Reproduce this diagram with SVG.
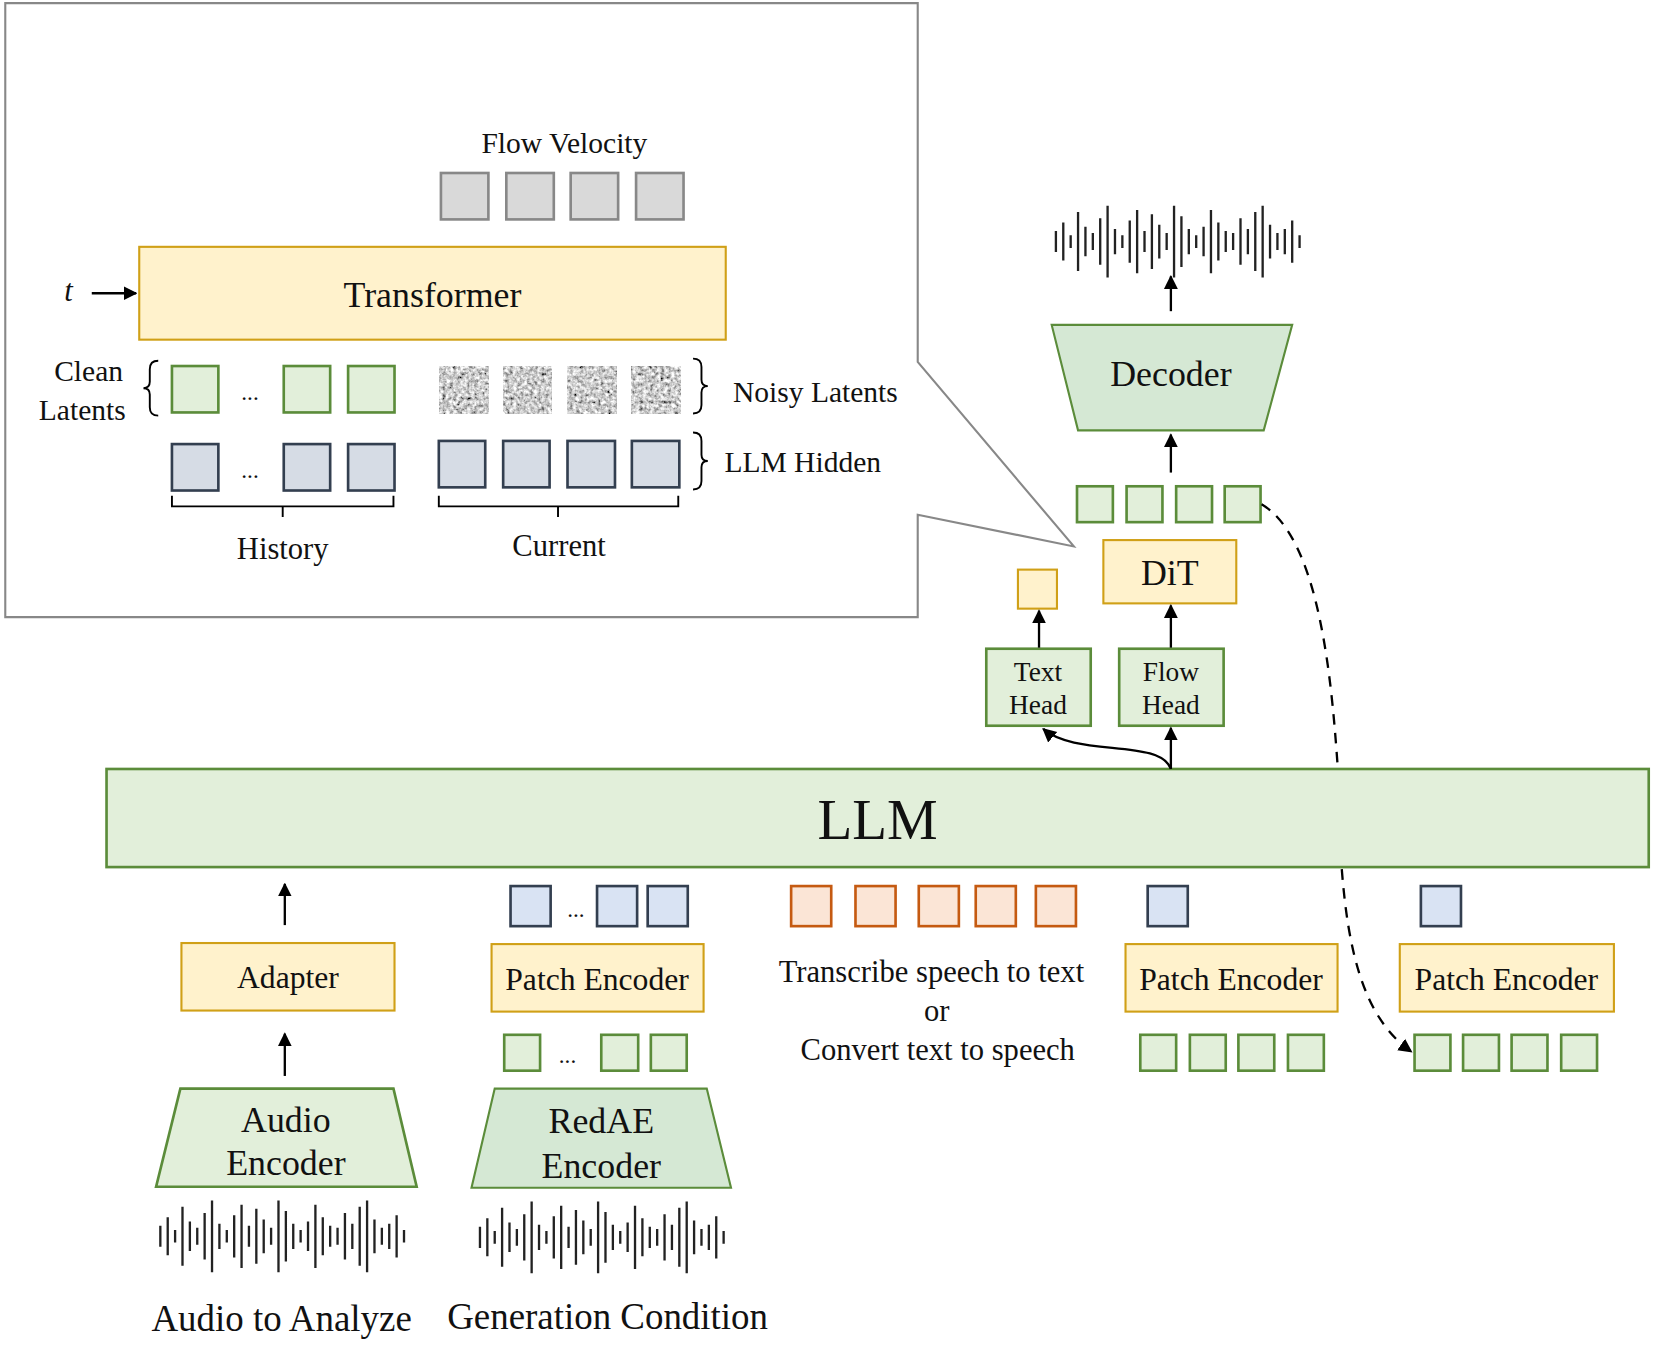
<svg xmlns="http://www.w3.org/2000/svg" width="1654" height="1361" viewBox="0 0 1654 1361">
<style>
text{font-family:"Liberation Serif","Times New Roman",serif;fill:#111;text-anchor:middle;dominant-baseline:central}
.g{fill:#e2efda;stroke:#5b8c3a;stroke-width:2.5}
.g2{fill:#d5e8d4;stroke:#5b8c3a;stroke-width:2}
.y{fill:#fff2cc;stroke:#d0a017;stroke-width:2}
.b{fill:#d6dce5;stroke:#333f50;stroke-width:2.5}
.bl{fill:#d9e3f3;stroke:#333f50;stroke-width:2.5}
.o{fill:#fbe5d6;stroke:#c55a11;stroke-width:2.5}
.gr{fill:#d9d9d9;stroke:#888;stroke-width:2.5}
.n{fill:#999;stroke:#888;stroke-width:2;filter:url(#noise)}
.ln{fill:none;stroke:#000;stroke-width:2.2}
.br{fill:none;stroke:#000;stroke-width:1.8}
</style>
<defs>
<marker id="ah" viewBox="0 0 10 10" refX="9" refY="5" markerWidth="6" markerHeight="7" orient="auto"><path d="M0,0 L10,5 L0,10 z" fill="#000"/></marker>
<filter id="noise" x="0" y="0" width="1" height="1"><feTurbulence type="fractalNoise" baseFrequency="0.3" numOctaves="3" seed="3"/><feColorMatrix type="matrix" values="0.9 0.9 0.9 0 -0.75 0.9 0.9 0.9 0 -0.75 0.9 0.9 0.9 0 -0.75 0 0 0 0 1"/><feComposite in2="SourceGraphic" operator="in"/></filter>
<symbol id="wave" overflow="visible"><path stroke="#222" stroke-width="2.2" d="M0,-10V10M7,-18V18M14,-6V6M21,-28V28M28,-14V14M35,-8V8M42,-22V22M49,-34V34M56,-12V12M63,-6V6M70,-20V20M77,-30V30M84,-10V10M91,-26V26M98,-16V16M105,-8V8M112,-34V34M119,-24V24M126,-12V12M133,-6V6M140,-14V14M147,-30V30M154,-18V18M161,-10V10M168,-8V8M175,-22V22M182,-12V12M189,-28V28M196,-34V34M203,-16V16M210,-8V8M217,-12V12M224,-20V20M231,-6V6"/></symbol>
</defs>
<g transform="scale(1.05485)">
<g id="callout"><path d="M5,3 H870 V343 L1018,518 L870,488 V585 H5 Z" fill="#fff" stroke="#888" stroke-width="2"/></g>
<g id="flowvel"><text x="535" y="136" font-size="28">Flow Velocity</text>
<rect class="gr" x="418" y="164" width="45" height="44"/><rect class="gr" x="480" y="164" width="45" height="44"/><rect class="gr" x="541" y="164" width="45" height="44"/><rect class="gr" x="603" y="164" width="45" height="44"/></g>
<g id="transformer"><rect class="y" x="132" y="234" width="556" height="88"/><text x="410" y="280" font-size="34">Transformer</text></g>
<g id="t"><text x="65" y="276" font-size="29" font-style="italic">t</text></g>
<g id="clean"><text x="84" y="352" font-size="28">Clean</text><text x="78" y="389" font-size="28">Latents</text>
<path class="br" d="M150,342 Q142,342 142,350 V362 Q142,368 136,368 Q142,368 142,374 V386 Q142,394 150,394"/>
<rect class="g" x="163" y="347" width="44" height="44"/><text x="237" y="372" font-size="22">...</text><rect class="g" x="269" y="347" width="44" height="44"/><rect class="g" x="330" y="347" width="44" height="44"/></g>
<g id="noisy"><rect class="n" x="417" y="347" width="46" height="45"/><rect class="n" x="477" y="347" width="46" height="45"/><rect class="n" x="538" y="347" width="46" height="45"/><rect class="n" x="599" y="347" width="46" height="45"/>
<path class="br" d="M657,340 Q665,340 665,348 V360 Q665,366 671,366 Q665,366 665,372 V384 Q665,392 657,392"/>
<text x="773" y="372" font-size="28">Noisy Latents</text></g>
<g id="hidden"><rect class="b" x="163" y="421" width="44" height="44"/><text x="237" y="446" font-size="22">...</text><rect class="b" x="269" y="421" width="44" height="44"/><rect class="b" x="330" y="421" width="44" height="44"/>
<rect class="b" x="416" y="418" width="44" height="44"/><rect class="b" x="477" y="418" width="44" height="44"/><rect class="b" x="538" y="418" width="45" height="44"/><rect class="b" x="599" y="418" width="45" height="44"/>
<path class="br" d="M657,410 Q665,410 665,418 V431 Q665,437 671,437 Q665,437 665,443 V456 Q665,464 657,464"/>
<text x="761" y="438" font-size="28">LLM Hidden</text></g>
<g id="history"><path class="br" d="M163,470 V480 H373 V470 M268,480 V490"/><text x="268" y="520" font-size="29">History</text></g>
<g id="current"><path class="br" d="M416,470 V480 H643 V470 M529,480 V490"/><text x="530" y="518" font-size="29">Current</text></g>

<g id="wave-out"><use href="#wave" x="1001" y="229"/></g>
<g id="decoder"><path class="g2" d="M997,308 H1225 L1198,408 H1022 Z"/><text x="1110" y="355" font-size="34">Decoder</text></g>
<g id="dit-out"><rect class="g" x="1021" y="461" width="34" height="34"/><rect class="g" x="1068" y="461" width="34" height="34"/><rect class="g" x="1115" y="461" width="34" height="34"/><rect class="g" x="1161" y="461" width="34" height="34"/></g>
<g id="dit"><rect class="y" x="1046" y="512" width="126" height="60"/><text x="1109" y="543" font-size="34">DiT</text></g>
<g id="texttok"><rect class="y" x="965" y="540" width="37" height="37"/></g>
<g id="texthead"><rect class="g" x="935" y="615" width="99" height="73"/><text x="984" y="637" font-size="26">Text</text><text x="984" y="668" font-size="26">Head</text></g>
<g id="flowhead"><rect class="g" x="1061" y="615" width="99" height="73"/><text x="1110" y="637" font-size="26">Flow</text><text x="1110" y="668" font-size="26">Head</text></g>
<g id="llm"><rect class="g" x="101" y="729" width="1462" height="93" stroke-width="3"/><text x="832" y="777" font-size="54">LLM</text></g>

<g id="adapter"><rect class="y" x="172" y="894" width="202" height="64"/><text x="273" y="927" font-size="30">Adapter</text></g>
<g id="audioenc"><path class="g" d="M171,1032 H373 L395,1125 H148 Z" stroke-width="2"/><text x="271" y="1062" font-size="34">Audio</text><text x="271" y="1103" font-size="34">Encoder</text></g>
<g id="wave-a"><use href="#wave" x="152" y="1172"/><text x="267" y="1250" font-size="35">Audio to Analyze</text></g>

<g id="pe1"><rect class="bl" x="484" y="840" width="38" height="38"/><text x="546" y="862" font-size="22">...</text><rect class="bl" x="566" y="840" width="38" height="38"/><rect class="bl" x="614" y="840" width="38" height="38"/>
<rect class="y" x="466" y="895" width="201" height="64"/><text x="566" y="929" font-size="30">Patch Encoder</text>
<rect class="g" x="478" y="981" width="34" height="34"/><text x="538" y="1000" font-size="22">...</text><rect class="g" x="570" y="981" width="35" height="34"/><rect class="g" x="617" y="981" width="34" height="34"/></g>
<g id="redae"><path class="g2" d="M469,1032 H670 L693,1126 H447 Z"/><text x="570" y="1063" font-size="34">RedAE</text><text x="570" y="1105" font-size="34">Encoder</text></g>
<g id="wave-g"><use href="#wave" x="455" y="1173"/><text x="576" y="1248" font-size="35">Generation Condition</text></g>

<g id="prompt"><rect class="o" x="750" y="840" width="38" height="38"/><rect class="o" x="811" y="840" width="38" height="38"/><rect class="o" x="871" y="840" width="38" height="38"/><rect class="o" x="925" y="840" width="38" height="38"/><rect class="o" x="982" y="840" width="38" height="38"/>
<text x="883" y="921" font-size="29">Transcribe speech to text</text><text x="888" y="958" font-size="29">or</text><text x="889" y="995" font-size="29">Convert text to speech</text></g>

<g id="pe2"><rect class="bl" x="1088" y="840" width="38" height="38"/><rect class="y" x="1067" y="895" width="201" height="64"/><text x="1167" y="929" font-size="30">Patch Encoder</text>
<rect class="g" x="1081" y="981" width="34" height="34"/><rect class="g" x="1128" y="981" width="34" height="34"/><rect class="g" x="1174" y="981" width="34" height="34"/><rect class="g" x="1221" y="981" width="34" height="34"/></g>
<g id="pe3"><rect class="bl" x="1347" y="840" width="38" height="38"/><rect class="y" x="1327" y="895" width="203" height="64"/><text x="1428" y="929" font-size="30">Patch Encoder</text>
<rect class="g" x="1341" y="981" width="34" height="34"/><rect class="g" x="1387" y="981" width="34" height="34"/><rect class="g" x="1433" y="981" width="34" height="34"/><rect class="g" x="1480" y="981" width="34" height="34"/></g>

<g id="connectors">
<path class="ln" d="M87,278 H129" marker-end="url(#ah)"/>
<path class="ln" d="M1110,295 V262" marker-end="url(#ah)"/>
<path class="ln" d="M1110,448 V412" marker-end="url(#ah)"/>
<path class="ln" d="M1110,614 V574" marker-end="url(#ah)"/>
<path class="ln" d="M985,614 V579" marker-end="url(#ah)"/>
<path class="ln" d="M1110,729 V690" marker-end="url(#ah)"/>
<path class="ln" d="M1110,729 C1100,700 1020,718 989,691" marker-end="url(#ah)"/>
<path class="ln" d="M1196,478 C1250,510 1262,640 1268,725" stroke-dasharray="10,8"/>
<path class="ln" d="M1272,824 C1278,900 1292,965 1338,997" stroke-dasharray="10,8" marker-end="url(#ah)"/>
<path class="ln" d="M270,877 V838" marker-end="url(#ah)"/>
<path class="ln" d="M270,1020 V980" marker-end="url(#ah)"/>
</g>
</g>
</svg>
